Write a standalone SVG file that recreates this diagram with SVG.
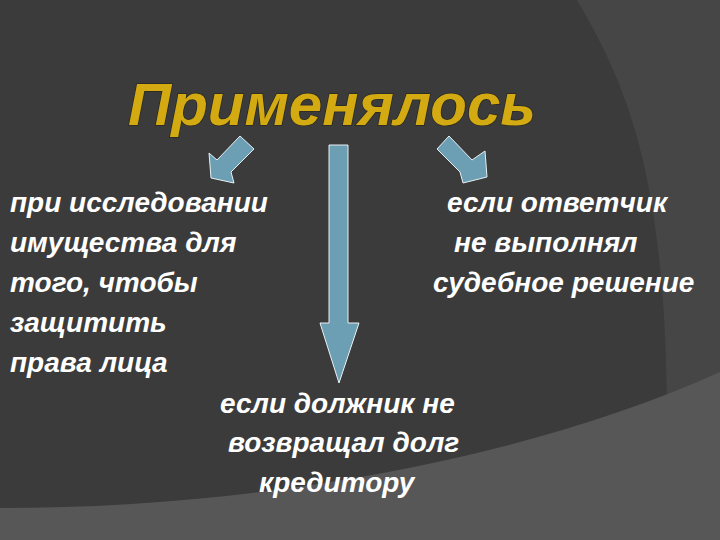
<svg xmlns="http://www.w3.org/2000/svg" width="720" height="540" viewBox="0 0 720 540">
  <style>
    .t { font-family: "Liberation Sans", Arial, sans-serif; font-weight: bold; font-style: italic; font-size: 28px; fill: #ffffff; }
    .title { font-family: "Liberation Sans", Arial, sans-serif; font-weight: bold; font-style: italic; font-size: 60px; fill: #d4aa12; stroke: #2a2a20; stroke-width: 1.5; paint-order: stroke; }
    .arr { fill: #6c9fb3; stroke: #e8f0f4; stroke-width: 1; stroke-linejoin: miter; }
  </style>
  <g id="background">
    <rect x="0" y="0" width="720" height="540" fill="#3b3b3b"/>
    <path d="M577,0 C630,90 665,180 667,410 L720,410 L720,0 Z" fill="#464646"/>
    <path d="M0,508 C250,508 520,462 720,372 L720,540 L0,540 Z" fill="#575757"/>
  </g>
  <g id="title">
    <text class="title" x="128" y="125">Применялось</text>
  </g>
  <g id="connectors">
    <polygon class="arr" points="240,136 254,149 231,172 234,183 211,178 209,153 217,160"/>
    <polygon class="arr" points="329,145 348,145 348,323 359,323 339,383 320,323 329,323"/>
    <polygon class="arr" points="449,136 472,160 485,151 487,177 463,183 460,172 437,149"/>
  </g>
  <g id="left-node">
    <text class="t" x="10" y="212">при исследовании</text>
    <text class="t" x="10" y="252">имущества для</text>
    <text class="t" x="10" y="292">того, чтобы</text>
    <text class="t" x="10" y="332">защитить</text>
    <text class="t" x="10" y="372">права лица</text>
  </g>
  <g id="right-node">
    <text class="t" x="447" y="212">если ответчик</text>
    <text class="t" x="454" y="252">не выполнял</text>
    <text class="t" x="433" y="292">судебное решение</text>
  </g>
  <g id="bottom-node">
    <text class="t" x="220" y="413">если должник не</text>
    <text class="t" x="228" y="452">возвращал долг</text>
    <text class="t" x="259" y="492">кредитору</text>
  </g>
</svg>
